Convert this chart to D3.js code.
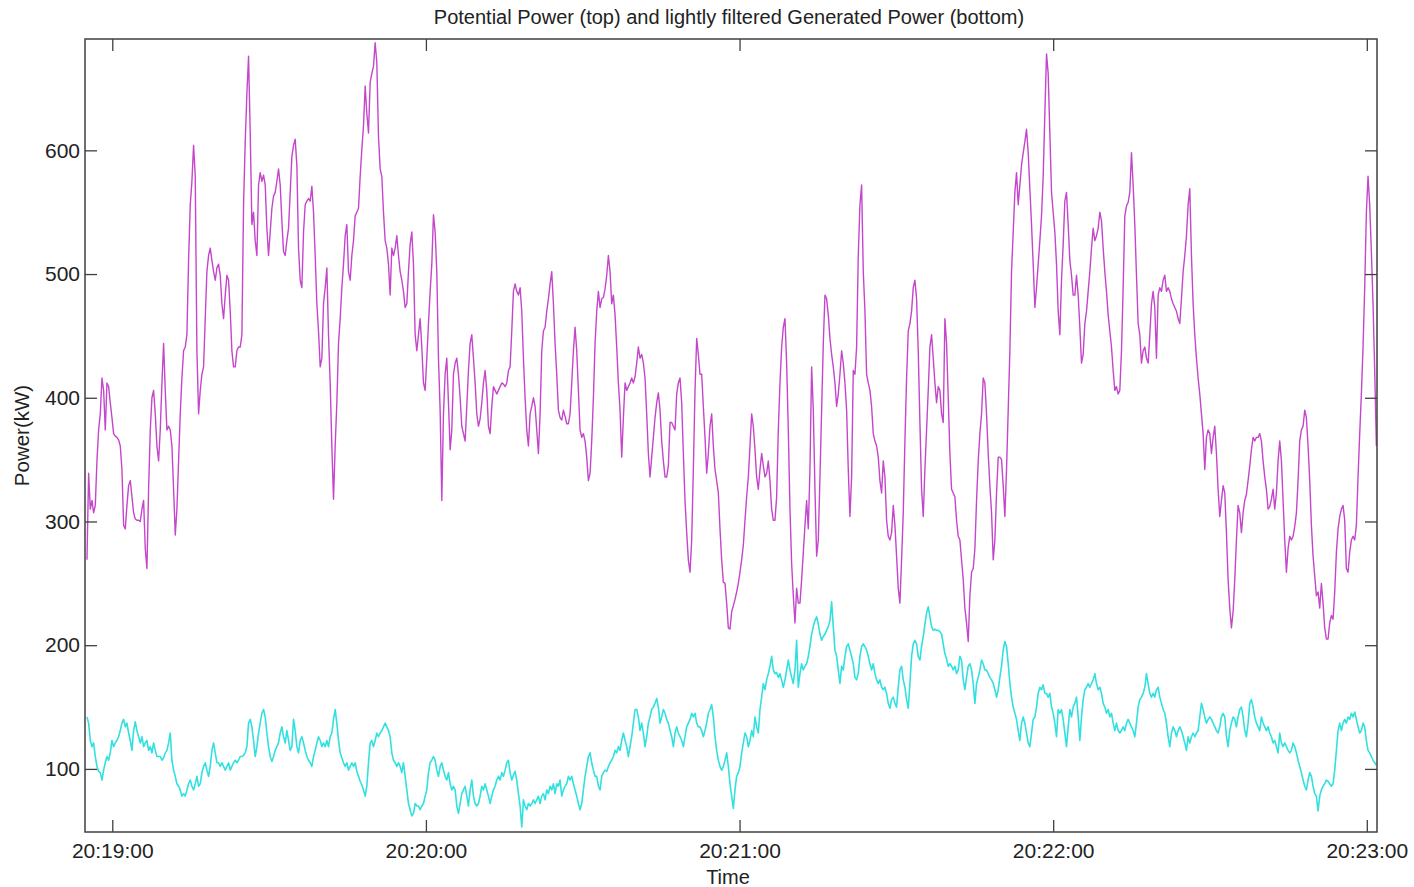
<!DOCTYPE html>
<html>
<head>
<meta charset="utf-8">
<script src="https://cdn.jsdelivr.net/npm/d3@7"></script>
<style>
  body { margin: 0; background: #fff; }
  svg text { font-family: "Liberation Sans", Arial, sans-serif; fill: #222; }
</style>
</head>
<body>
<svg id="chart"></svg>
<script>
const chartTitle = "Potential Power (top) and lightly filtered Generated Power (bottom)";
const xLabel = "Time";
const yLabel = "Power(kW)";

// samples are evenly spaced, first one at sampleStart
const sampleStart = "20:18:55.155";
const sampleStepSec = 0.3187;

// potential power, kW (magenta, top)
const potentialPower = [
  269,339,310,317,307,313,349,374,387,416,406,374,412,409,396,384,371,369,368,366,
  361,342,297,294,313,329,333,320,307,302,301,301,300,310,317,278,262,326,374,400,
  406,387,361,349,374,412,444,406,374,377,374,361,326,289,310,349,387,416,438,441,
  451,511,556,575,604,579,438,387,406,419,425,464,502,515,521,511,502,495,505,508,
  499,476,464,483,499,495,470,438,425,425,438,441,441,451,556,607,646,676,614,540,
  550,527,515,572,582,575,580,572,537,515,534,553,563,566,575,585,572,543,518,515,
  527,537,566,595,604,
  609,588,521,495,489,534,556,559,561,559,571,550,515,476,454,425,432,476,489,505,
  451,412,361,318,361,396,444,464,489,508,531,540,502,495,515,527,547,550,553,579,
  601,620,652,630,614,655,662,668,687,671,611,585,579,550,527,521,508,483,521,515,
  521,531,515,502,495,486,473,476,502,524,534,508,451,438,451,464,441,412,406,432,
  460,486,508,548,534,502,432,390,317,387,419,432,396,358,374,419,428,432,419,400,
  377,371,365,393,422,444,451,432,412,387,377,383,396,412,422,406,377,371,393,409,
  406,403,406,409,412,411,409,412,422,
  425,454,486,492,486,483,489,470,432,400,374,361,387,393,400,393,374,355,387,438,
  454,457,470,480,492,502,476,444,419,390,384,382,390,385,379,379,387,412,438,457,
  438,406,374,368,371,365,352,333,339,365,400,444,470,486,473,480,481,488,499,515,
  502,476,483,467,441,412,390,352,384,412,406,409,412,416,412,417,428,441,432,435,
  428,416,387,355,336,352,368,384,396,404,390,365,349,336,336,345,380,380,377,374,
  403,412,416,396,355,317,291,269,259,285,342,406,448,435,419,419,393,368,339,355,
  377,387,361,342,333,323,294,269,251,
  250,234,214,213,227,232,237,243,250,259,269,281,301,320,336,361,387,377,358,336,
  326,342,355,345,336,339,349,333,310,301,301,320,374,412,441,457,464,428,374,310,
  266,240,218,246,234,234,253,275,297,317,294,342,425,390,326,272,285,336,390,444,
  483,480,467,448,435,425,412,393,403,419,438,428,412,390,342,304,336,422,419,441,
  515,556,572,502,470,419,412,406,393,371,365,361,352,333,323,349,336,301,288,285,
  291,313,297,272,246,234,269,307,365,416,454,460,470,489,495,480,438,380,326,304,
  342,374,406,441,451,432,412,396,409,
  406,387,380,464,444,400,355,326,323,320,301,288,285,269,253,230,218,203,240,259,
  262,278,317,349,371,387,416,412,387,355,329,307,269,285,323,352,352,350,329,304,
  342,390,438,502,534,566,582,556,572,588,598,607,617,598,569,540,508,473,489,508,
  527,547,579,630,678,662,614,566,550,534,508,470,451,495,524,559,566,540,511,499,
  483,483,499,483,457,428,435,460,470,486,502,521,537,527,531,537,550,543,521,502,
  486,467,454,441,422,406,409,403,406,438,489,547,555,558,566,598,572,540,499,460,
  451,428,438,441,432,428,451,476,486,
  473,432,483,489,486,495,499,486,489,486,480,476,473,470,464,460,480,502,515,531,
  556,569,515,476,451,432,416,403,387,371,342,368,374,371,355,368,377,355,326,304,
  317,329,323,291,253,230,214,227,253,285,313,307,291,307,317,322,333,345,358,368,
  365,368,368,371,365,349,336,326,310,312,318,326,310,323,349,365,349,317,285,259,
  278,288,285,288,296,307,333,365,374,377,390,384,361,333,297,272,256,240,243,230,
  250,234,214,205,205,218,224,221,243,275,294,304,310,313,301,262,259,275,285,288,
  285,297,336,371,403,441,489,550,579,556,518,476,422,361
];

// generated power, lightly filtered, kW (cyan, bottom)
const generatedPower = [
  142,137,123,118,121,110,102,98,97,91,99,105,110,107,113,123,118,121,123,126,
  131,137,140,134,137,129,123,115,131,138,131,126,121,126,118,121,123,115,118,113,
  121,115,110,110,110,107,109,113,115,121,129,107,99,94,88,86,83,78,80,78,
  83,88,91,86,83,88,94,86,88,97,102,105,99,94,102,115,121,113,105,105,
  102,105,102,99,102,105,99,102,105,107,105,107,110,110,111,113,118,137,140,134,
  123,110,118,129,137,145,148,142,129,118,110,106,110,115,118,121,129,134,126,121,
  131,123,115,118,140,
  131,118,113,123,126,121,115,110,107,105,102,110,115,121,126,123,118,121,118,123,
  118,126,129,140,148,137,123,113,109,105,102,105,99,102,105,102,105,98,94,90,
  87,83,78,86,105,121,123,118,123,129,126,129,131,134,137,134,131,126,113,107,
  105,102,105,102,97,105,94,83,72,67,62,64,72,70,70,67,70,72,78,83,
  97,105,107,110,107,99,94,102,105,99,94,91,97,88,83,86,83,70,64,72,
  80,83,86,78,70,83,91,78,72,70,72,78,86,83,88,83,78,72,78,83,
  86,91,94,91,97,94,99,105,107,
  97,91,95,98,91,80,70,53,75,70,67,72,70,72,75,72,75,78,72,78,
  80,75,83,80,86,83,88,80,88,86,91,78,83,86,88,94,91,94,88,83,
  78,72,67,72,83,94,102,110,113,105,99,94,94,86,83,94,97,99,98,102,
  105,107,110,115,113,118,115,123,129,123,118,110,118,126,137,148,148,142,131,137,
  129,118,126,137,142,148,150,153,157,150,137,142,148,145,140,137,131,126,118,129,
  134,129,126,123,118,126,134,137,140,145,142,145,137,134,134,131,126,131,137,145,
  148,152,142,126,115,107,102,99,102,
  107,113,102,88,78,68,83,94,97,102,113,121,129,126,118,123,131,126,142,134,
  129,148,158,169,164,172,177,183,191,180,177,178,174,177,172,166,172,180,188,180,
  174,169,180,204,166,177,185,180,183,185,191,199,209,215,220,223,217,209,204,207,
  209,212,215,220,235,215,196,191,180,169,183,180,191,199,201,196,191,185,174,172,
  177,191,199,201,199,196,191,185,180,185,177,172,169,172,166,164,166,161,153,149,
  156,158,153,150,166,180,183,172,166,156,149,169,191,201,204,201,191,188,199,207,
  217,226,231,223,215,212,213,212,212,
  211,209,201,193,189,183,185,183,180,183,177,180,191,188,172,164,174,183,185,180,
  169,153,169,174,180,188,185,180,180,177,174,172,169,164,158,164,174,183,196,203,
  199,185,169,158,150,145,140,131,123,137,142,137,129,121,118,129,140,142,150,161,
  166,164,168,161,161,158,161,150,145,137,126,148,145,148,140,129,118,134,148,142,
  150,153,158,142,123,142,156,164,166,169,166,169,172,177,169,164,166,161,153,150,
  145,148,142,145,137,131,137,131,129,131,134,131,137,140,137,134,131,126,137,150,
  156,158,161,166,177,169,161,158,161,
  158,164,166,158,153,148,145,137,126,118,129,134,131,126,131,134,131,126,121,115,
  126,121,126,129,126,129,131,142,153,148,142,137,140,142,140,137,134,131,129,134,
  142,145,142,126,118,131,137,142,140,134,142,148,150,142,131,126,137,153,156,150,
  142,137,134,131,142,137,134,131,134,129,126,121,123,118,113,129,121,118,121,118,
  115,113,115,121,118,113,107,102,97,91,86,83,91,97,94,86,80,78,66,78,
  83,86,88,91,90,88,86,88,99,115,131,137,131,137,140,137,142,140,145,142,
  146,140,134,129,131,137,134,123,115,113,110,107,105,103
];

const xTickLabels = ["20:19:00", "20:20:00", "20:21:00", "20:22:00", "20:23:00"];
const yTickValues = [100, 200, 300, 400, 500, 600];
const timeRange = ["20:18:54.780", "20:23:01.950"];
const powerRange = [49, 690];

var svgWidth = 1414, svgHeight = 887;
var margin = {top: 39, right: 37, bottom: 55, left: 85};
var plotW = svgWidth - margin.left - margin.right;
var plotH = svgHeight - margin.top - margin.bottom;

var parseMs = d3.timeParse("%H:%M:%S.%L");
var parseSec = d3.timeParse("%H:%M:%S");
var t0 = parseMs(sampleStart).getTime();
function sampleTime(i) { return new Date(t0 + i * sampleStepSec * 1000); }

var svg = d3.select("#chart")
  .attr("width", svgWidth)
  .attr("height", svgHeight);

var x = d3.scaleTime()
  .domain(timeRange.map(parseMs))
  .range([0, plotW]);
var y = d3.scaleLinear()
  .domain(powerRange)
  .range([plotH, 0]);

var g = svg.append("g")
  .attr("transform", "translate(" + margin.left + "," + margin.top + ")");

g.append("clipPath").attr("id", "plotclip")
  .append("rect").attr("width", plotW).attr("height", plotH);

var line = d3.line()
  .x(function(d, i) { return x(sampleTime(i)); })
  .y(function(d) { return y(d); });

var lines = g.append("g").attr("clip-path", "url(#plotclip)");
lines.append("path")
  .datum(generatedPower)
  .attr("fill", "none")
  .attr("stroke", "#33e0e0")
  .attr("stroke-width", 1.6)
  .attr("stroke-linejoin", "round")
  .attr("d", line);
lines.append("path")
  .datum(potentialPower)
  .attr("fill", "none")
  .attr("stroke", "#c446cb")
  .attr("stroke-width", 1.4)
  .attr("stroke-linejoin", "round")
  .attr("d", line);

var xTicks = xTickLabels.map(parseSec);
var fmt = d3.timeFormat("%H:%M:%S");

function styleAxis(sel) {
  sel.selectAll(".domain").remove();
  sel.selectAll("line").attr("stroke", "#404040").attr("stroke-width", 1.3);
  sel.selectAll("text").style("font-size", "21px").attr("fill", "#222");
}

g.append("g").attr("transform", "translate(0," + plotH + ")")
  .call(d3.axisBottom(x).tickValues(xTicks).tickFormat(fmt)
    .tickSizeInner(-12).tickSizeOuter(0).tickPadding(11))
  .call(styleAxis);
g.append("g")
  .call(d3.axisTop(x).tickValues(xTicks).tickFormat("")
    .tickSizeInner(-12).tickSizeOuter(0))
  .call(styleAxis);
g.append("g")
  .call(d3.axisLeft(y).tickValues(yTickValues)
    .tickSizeInner(-12).tickSizeOuter(0).tickPadding(5))
  .call(styleAxis);
g.append("g").attr("transform", "translate(" + plotW + ",0)")
  .call(d3.axisRight(y).tickValues(yTickValues).tickFormat("")
    .tickSizeInner(-12).tickSizeOuter(0))
  .call(styleAxis);

// box around the plot
g.append("rect")
  .attr("width", plotW).attr("height", plotH)
  .attr("fill", "none")
  .attr("stroke", "#404040")
  .attr("stroke-width", 1.5);

svg.append("text")
  .attr("x", 729).attr("y", 24)
  .attr("text-anchor", "middle")
  .style("font-size", "20px")
  .text(chartTitle);

svg.append("text")
  .attr("x", margin.left + plotW / 2 - 3).attr("y", 884)
  .attr("text-anchor", "middle")
  .style("font-size", "20px")
  .text(xLabel);

svg.append("text")
  .attr("transform", "translate(29," + (margin.top + plotH / 2) + ") rotate(-90)")
  .attr("text-anchor", "middle")
  .style("font-size", "20.5px")
  .text(yLabel);
</script>
</body>
</html>
